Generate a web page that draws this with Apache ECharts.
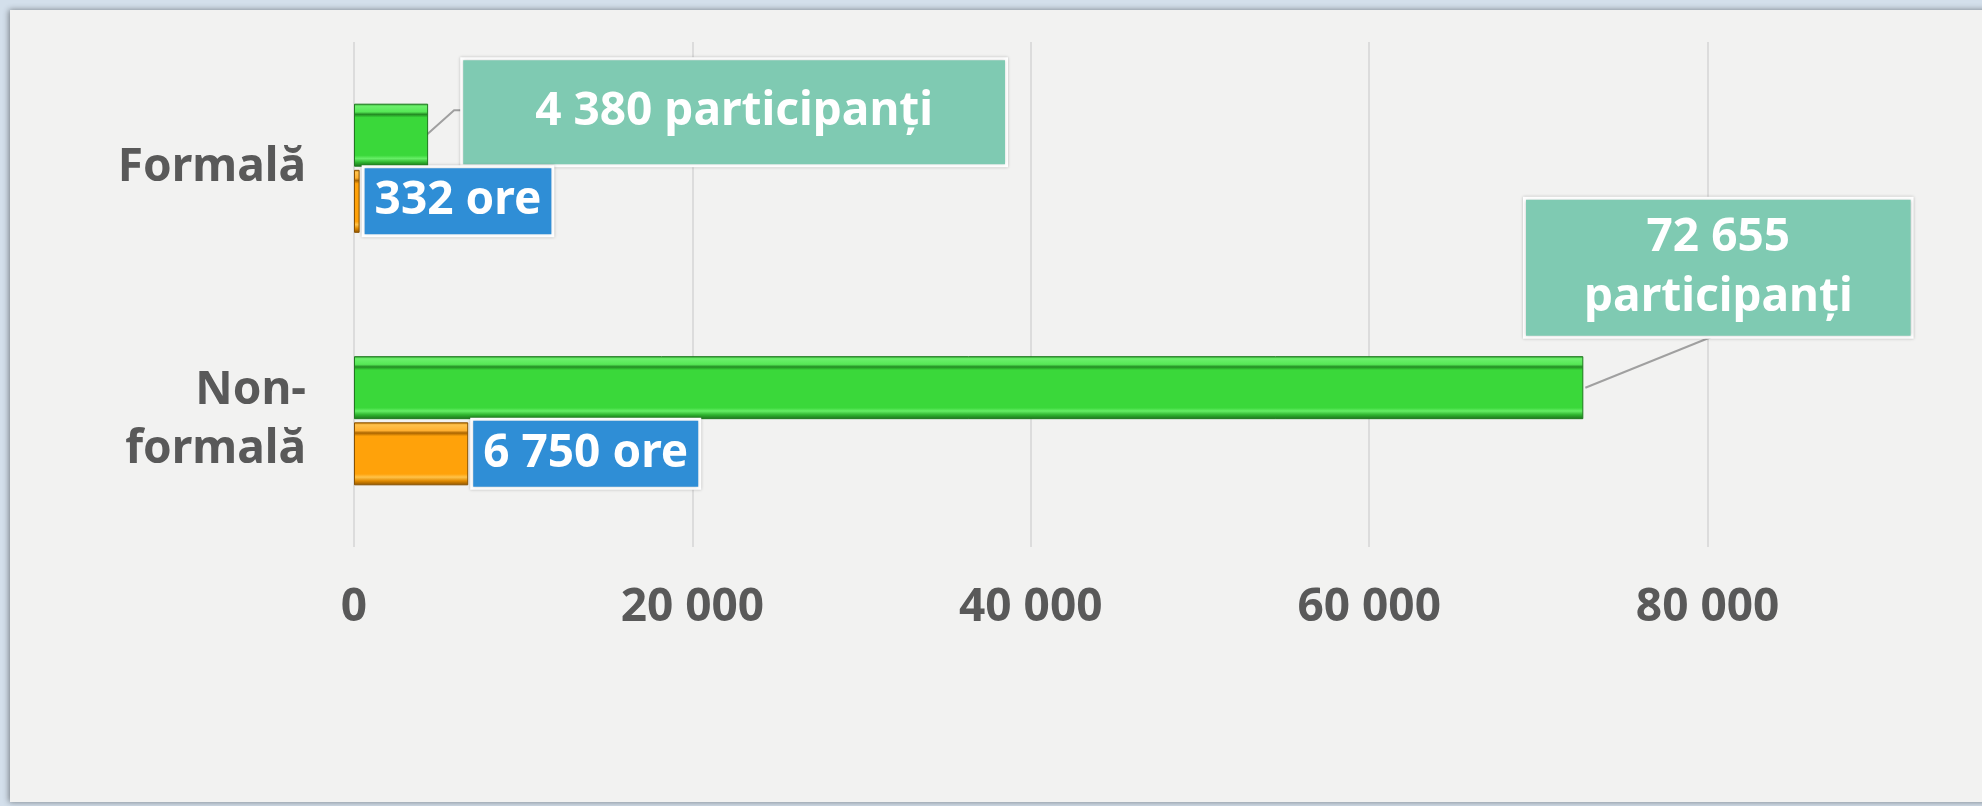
<!DOCTYPE html>
<html>
<head>
<meta charset="utf-8">
<script src="https://cdn.jsdelivr.net/npm/echarts@6/dist/echarts.min.js"></script>
<style>
  html, body { margin: 0; padding: 0; background: #d3dfeb; }
  #chart { width: 1982px; height: 806px; }
</style>
</head>
<body>
<div id="chart"></div>
<script>
// categories (top to bottom)
var categories = ["Formală", "Non-\nformală"];
// participants per category
var participants = [4380, 72655];
// hours per category
var hours = [332, 6750];
// x axis tick labels that are shown
var xTicks = [0, 20000, 40000, 60000, 80000];

var fontFamily = '"Noto Sans", "DejaVu Sans", sans-serif';
var grayText = "#595959";

function fmt(n) {
  return String(n).replace(/\B(?=(\d{3})+(?!\d))/g, " ");
}

// bevel-like fills
var greenFill = new echarts.graphic.LinearGradient(0, 0, 0, 1, [
  { offset: 0, color: "#2b9a2b" },
  { offset: 0.04, color: "#6cf06c" },
  { offset: 0.13, color: "#56e856" },
  { offset: 0.17, color: "#238a23" },
  { offset: 0.22, color: "#3ad83a" },
  { offset: 0.82, color: "#3ad83a" },
  { offset: 0.87, color: "#66ee66" },
  { offset: 0.93, color: "#2fb52f" },
  { offset: 1, color: "#1d6e1d" }
]);
var orangeFill = new echarts.graphic.LinearGradient(0, 0, 0, 1, [
  { offset: 0, color: "#c77a00" },
  { offset: 0.04, color: "#ffc24d" },
  { offset: 0.13, color: "#ffb030" },
  { offset: 0.17, color: "#a86400" },
  { offset: 0.22, color: "#ffa20a" },
  { offset: 0.82, color: "#ffa20a" },
  { offset: 0.87, color: "#ffc34a" },
  { offset: 0.93, color: "#e08a00" },
  { offset: 1, color: "#8a5200" }
]);

var barW = 63;
// shift of label boxes relative to the end of their bar
var boxShift = [{ dx: 29, dy: -23 }, { dx: -64, dy: -120 }];
var boxHalfWidth = [272, 194];

var myChart = echarts.init(document.getElementById("chart"));

var panel = {
  type: "rect",
  z: -10,
  shape: { x: 10, y: 10, width: 2010, height: 792 },
  style: {
    fill: "#f2f2f1",
    shadowBlur: 6,
    shadowColor: "rgba(0,0,0,0.45)",
    shadowOffsetX: -1,
    shadowOffsetY: 0
  }
};

var option = {
  animation: false,
  backgroundColor: "#d3dfeb",
  graphic: [panel],
  grid: {
    left: 354,
    right: -64,
    top: 42,
    bottom: 259,
    containLabel: false,
    outerBoundsMode: "none"
  },
  xAxis: {
    type: "value",
    min: 0,
    max: 100000,
    interval: 20000,
    axisLine: { show: false },
    axisTick: { show: false },
    splitLine: { show: true, lineStyle: { color: "#d4d4d4", width: 1.5 } },
    axisLabel: {
      margin: 38,
      color: grayText,
      fontSize: 46,
      fontWeight: "bold",
      fontFamily: fontFamily,
      formatter: function (v) {
        return xTicks.indexOf(v) >= 0 ? fmt(v) : "";
      }
    }
  },
  yAxis: {
    type: "category",
    inverse: true,
    data: categories,
    axisLine: { show: false },
    axisTick: { show: false },
    axisLabel: {
      margin: 48,
      color: grayText,
      fontSize: 46,
      fontWeight: "bold",
      fontFamily: fontFamily,
      lineHeight: 59,
      align: "right"
    }
  },
  series: [
    {
      name: "participanți",
      type: "bar",
      barWidth: barW,
      barGap: "5%",
      itemStyle: { color: greenFill, borderColor: "#1f7a1f", borderWidth: 1 },
      label: {
        show: true,
        position: "right",
        distance: 5,
        color: "#fff",
        fontSize: 46,
        fontWeight: "bold",
        fontFamily: fontFamily,
        lineHeight: 60,
        backgroundColor: "#7fcab2",
        borderColor: "#ffffff",
        borderWidth: 3,
        shadowColor: "rgba(0,0,0,0.25)",
        shadowBlur: 3,
        formatter: function (p) {
          return p.dataIndex === 1
            ? fmt(p.value) + "\nparticipanți"
            : fmt(p.value) + " participanți";
        }
      },
      labelLayout: function (p) {
        var s = boxShift[p.dataIndex];
        return { dx: s.dx + boxHalfWidth[p.dataIndex], dy: s.dy };
      }
    },
    {
      name: "ore",
      type: "bar",
      barWidth: barW,
      barGap: "5%",
      data: hours,
      itemStyle: { color: orangeFill, borderColor: "#8a5200", borderWidth: 1 },
      label: {
        show: true,
        position: "right",
        distance: 5,
        color: "#fff",
        fontSize: 46,
        fontWeight: "bold",
        fontFamily: fontFamily,
        backgroundColor: "#2f8ed6",
        borderColor: "#ffffff",
        borderWidth: 3,
        padding: [10, 10, 10, 10],
        shadowColor: "rgba(0,0,0,0.25)",
        shadowBlur: 3,
        formatter: function (p) {
          return fmt(p.value) + " ore";
        }
      }
    }
  ]
};

// box padding for the participant labels
option.series[0].data = participants.map(function (v, i) {
  return {
    value: v,
    label: {
      align: "center",
      padding: i === 0 ? [22, 72, 22, 72] : [8, 58, 8, 58]
    }
  };
});

myChart.setOption(option);

// leader lines from the end of each participant bar to its label box
var leaders = participants.map(function (v, i) {
  var pt = myChart.convertToPixel({ gridIndex: 0 }, [v, i]);
  var endX = pt[0];
  var midY = pt[1] - (barW + 3) / 2;
  var s = boxShift[i];
  var left = endX + 5 + s.dx;
  var points;
  if (i === 0) {
    var ty = midY + s.dy - 2;
    points = [[endX - 2, midY], [left - 8, ty], [left, ty]];
  } else {
    var bottom = midY + s.dy + 68;
    var cx = left + boxHalfWidth[i] - 4;
    points = [[endX + 2, midY], [cx, bottom]];
  }
  return {
    type: "polyline",
    z: 1,
    shape: { points: points },
    style: { stroke: "#a0a0a0", lineWidth: 2, fill: null }
  };
});

myChart.setOption({ graphic: [panel].concat(leaders) }, { replaceMerge: ["graphic"] });
</script>
</body>
</html>
